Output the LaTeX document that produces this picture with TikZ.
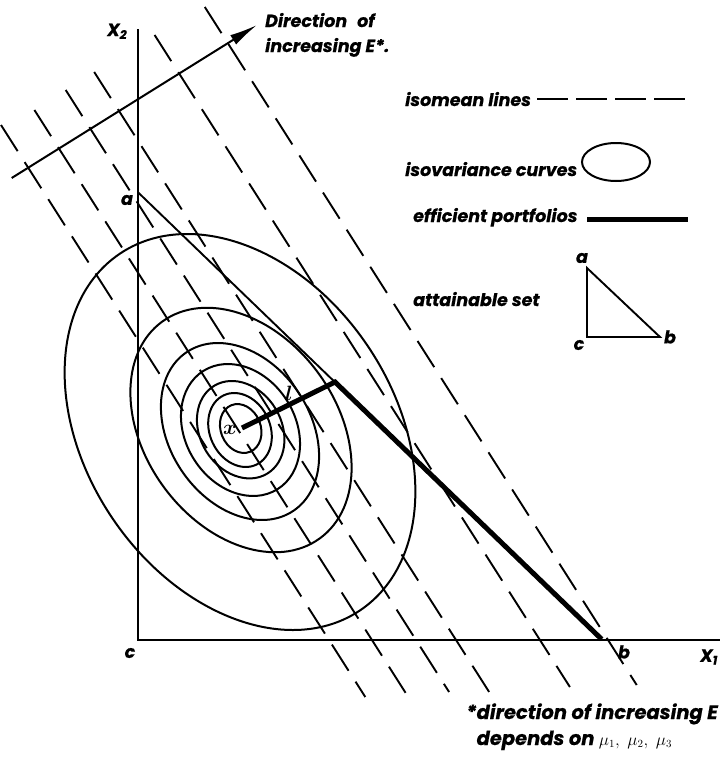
\documentclass[tikz,border=0pt]{standalone}
\usepackage{fontspec}
\setmainfont{Poppins}[BoldItalicFeatures={FakeBold=0.6}]
\usetikzlibrary{arrows.meta}
\begin{document}
\begin{tikzpicture}[x=1pt,y=-1pt,
  lbl/.style={font=\fontsize{17.5}{20}\selectfont\bfseries\itshape, inner sep=0pt},
  fnlbl/.style={font=\fontsize{19.5}{22}\selectfont\bfseries\itshape, inner sep=0pt},
  mlbl/.style={font=\fontsize{21}{24}\selectfont\boldmath, inner sep=0pt},
  axisline/.style={line width=2pt},
  isoline/.style={line width=1.9pt, dash pattern=on 31pt off 13pt},
  ivc/.style={line width=2pt},
  eff/.style={line width=5pt, line join=miter},
  thinline/.style={line width=1.9pt}]
\useasboundingbox (0,0) rectangle (721,758);

% key points
\coordinate (a) at (137.7,192);
\coordinate (c) at (137.7,640);
\coordinate (b) at (601.7,639.3);
\coordinate (x) at (242,428);
\coordinate (k) at (335,382);
\coordinate (x2top) at (137.7,29);
\coordinate (x1end) at (720,640);

% isovariance curves
\foreach \A/\B/\t/\cx/\cy in {215/154/124/240/432, 134/96/126/241/430,
  95.6/70.3/124/240/431.5, 69.8/55/122/240.5/430, 51.3/40.7/121/240.7/429.7,
  38.3/30.2/115/240/430, 25.1/20/112/240.7/428.5}
  \draw[ivc, rotate around={\t:(\cx,\cy)}] (\cx,\cy) ellipse [x radius=\A pt, y radius=\B pt];

% isomean lines
\foreach \i/\xa/\ya/\xb/\yb in {1/1/125/365.3/697, 2/34.4/110/408.9/698, 3/65.7/90/449.1/692,
  4/94.2/72/489.8/693, 5/154.6/35/569.9/687, 6/204.8/7/636.7/685} {
  \coordinate (m\i s) at (\xa,\ya);
  \coordinate (m\i e) at (\xb,\yb);
  \draw[isoline] (m\i s) -- (m\i e);
}

% axes
\draw[axisline] (x2top) -- (c) -- (x1end);

% attainable set boundary a-b
\draw[thinline] (a) -- (b);

% efficient portfolios
\draw[eff] (x) -- (k) -- (b);

% direction arrow
\coordinate (arrS) at (11.7,178);
\coordinate (arrE) at (257,25);
\draw[line width=2pt, -{Latex[length=28pt,width=11pt]}] (arrS) -- (arrE);

% labels
\node[lbl, anchor=base west] (X2) at (107,36) {X\textsubscript{2}};
\node[lbl, anchor=base west] (dir1) at (265,27) {Direction\hspace{10pt}of};
\node[lbl, anchor=base west] (dir2) at (265,52) {increasing E*.};
\node[lbl] (la) at (127,200) {a};
\node[lbl] (lc) at (130,653) {c};
\node[lbl] (lb) at (624,652) {b};
\node[lbl] (X1) at (709,657) {X\textsubscript{1}};
\node[mlbl] (lx) at (230,430) {$x$};
\node[mlbl] (ll) at (289,393) {$l$};

% legend
\node[lbl, anchor=base west] (t1) at (405,106) {isomean lines};
\coordinate (g1s) at (537,99); \coordinate (g1e) at (685,99);
\draw[line width=1.9pt, dash pattern=on 31pt off 8pt] (g1s) -- (g1e);
\node[lbl, anchor=base west] (t2) at (405,176) {isovariance curves};
\coordinate (g2) at (616,162);
\draw[ivc] (g2) ellipse [x radius=34pt, y radius=19pt];
\node[lbl, anchor=base west] (t3) at (413,222) {efficient portfolios};
\coordinate (g3s) at (587,219); \coordinate (g3e) at (688,219);
\draw[eff] (g3s) -- (g3e);
\node[lbl, anchor=base west] (t4) at (413,306) {attainable set};
\coordinate (ta) at (587,268); \coordinate (tc) at (587,337); \coordinate (tb) at (660,337);
\draw[thinline, line join=miter] (ta) -- (tc) -- (tb) -- cycle;
\node[lbl] (tla) at (582,258) {a};
\node[lbl] (tlc) at (579,345) {c};
\node[lbl] (tlb) at (670,337) {b};

% footnote
\node[fnlbl, anchor=base east] (fn1) at (718,719) {\llap{*}direction of increasing E};
\node[fnlbl, anchor=base west] (fn2) at ([yshift=-26pt]fn1.base west) {depends on {\normalfont\fontsize{16}{19}\selectfont$\mu_1,\;\mu_2,\;\mu_3$}};
\end{tikzpicture}
\end{document}
